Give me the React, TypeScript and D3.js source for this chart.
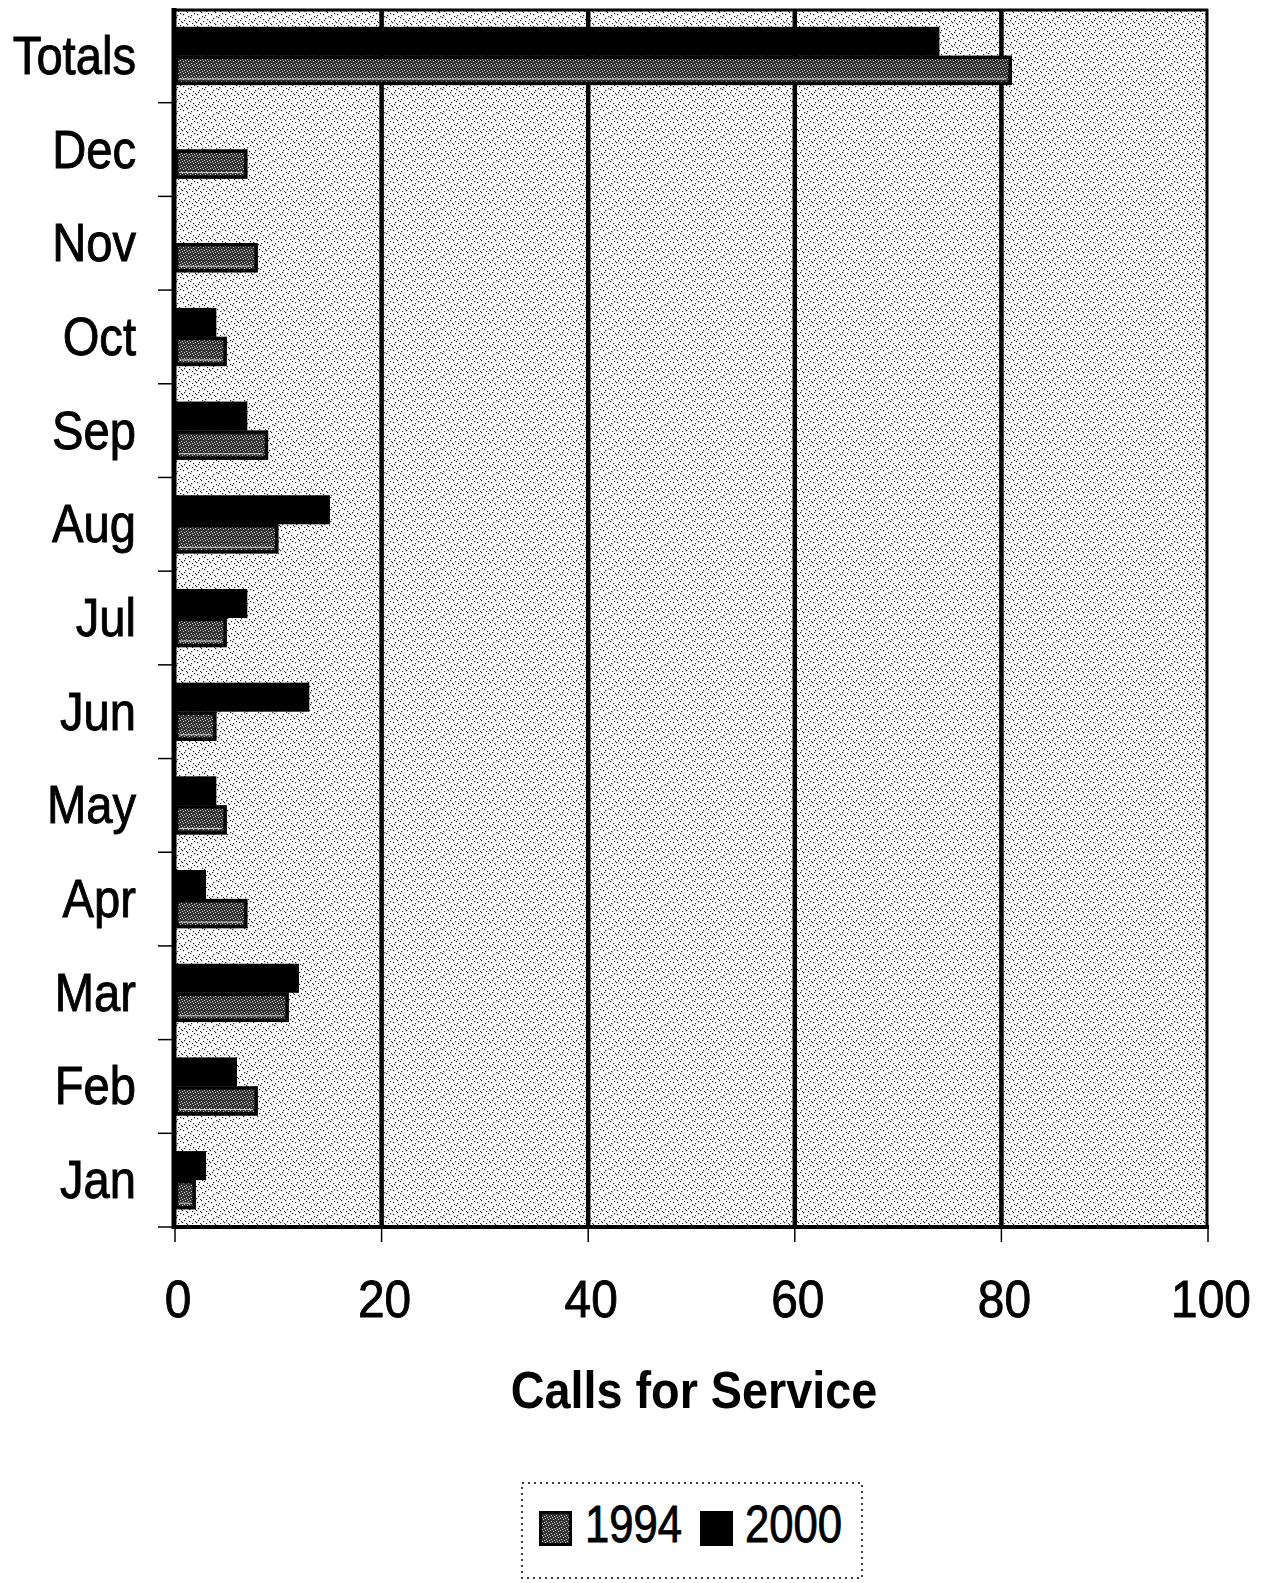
import React from "react";
import { scaleBand, scaleLinear } from "d3";

// categories from top to bottom, as in the picture
const categories = ["Totals", "Dec", "Nov", "Oct", "Sep", "Aug", "Jul", "Jun", "May", "Apr", "Mar", "Feb", "Jan"];
const values1994 = [81, 7, 8, 5, 9, 10, 5, 4, 5, 7, 11, 8, 2];
const values2000 = [74, 0, 0, 4, 7, 15, 7, 13, 4, 3, 12, 6, 3];
const xTicks = [0, 20, 40, 60, 80, 100];
const seriesNames = ["1994", "2000"];

const W = 1267;
const H = 1583;
const left = 175;
const right = 1208;
const top = 9;
const bottom = 1227;
const FONT = "'Liberation Sans', Arial, sans-serif";

// fixed speckle positions for the background tile (decoration only)
const bgDots = [
    [1, 2], [5, 0], [9, 3], [3, 6], [11, 7], [7, 9], [0, 10], [4, 11], [10, 11], [8, 5], [2, 8], [6, 4], [12, 1], [13, 9],
];
const darkDots = [[0, 0], [3, 1], [1, 3], [4, 4], [2, 5]];

function App() {
    const x = scaleLinear().domain([0, 100]).range([left, right]);
    const y = scaleBand<string>().domain(categories).range([top, bottom]).paddingInner(0.38).paddingOuter(0.19);
    const inner = scaleBand<string>().domain(["2000", "1994"]).range([0, y.bandwidth()]);
    const step = y.step();

    return (
        <svg width={W} height={H} style={{ position: "absolute", left: 0, top: 0, display: "block", background: "#fff" }}>
            <defs>
                <pattern id="bg" width={14} height={12} patternUnits="userSpaceOnUse">
                    <rect width={14} height={12} fill="#fff" />
                    {bgDots.map(([dx, dy], i) => (
                        <rect key={i} x={dx} y={dy} width={1.2} height={1.2} fill="#222" />
                    ))}
                </pattern>
                <pattern id="dark" width={5} height={6} patternUnits="userSpaceOnUse">
                    <rect width={5} height={6} fill="#333" />
                    {darkDots.map(([dx, dy], i) => (
                        <rect key={i} x={dx} y={dy} width={1} height={1} fill="#d0d0d0" />
                    ))}
                </pattern>
            </defs>

            {/* plot background */}
            <rect x={left} y={top} width={right - left} height={bottom - top} fill="url(#bg)" />

            {/* vertical gridlines */}
            {xTicks.slice(1, -1).map((t) => (
                <line key={t} x1={x(t)} x2={x(t)} y1={top} y2={bottom} stroke="#000" strokeWidth={4.5} />
            ))}

            {/* bars */}
            {categories.map((c, i) => {
                const by = y(c) as number;
                const v94 = values1994[i];
                const v00 = values2000[i];
                return (
                    <g key={c}>
                        {v00 > 0 && (
                            <rect x={x(0)} y={by + (inner("2000") as number)} width={x(v00) - x(0)} height={inner.bandwidth()} fill="#000" />
                        )}
                        {v94 > 0 && (
                            <g>
                                <rect
                                    x={x(0) + 1.5}
                                    y={by + (inner("1994") as number) + 1.5}
                                    width={x(v94) - x(0) - 3}
                                    height={inner.bandwidth() - 3}
                                    fill="url(#dark)"
                                    stroke="#000"
                                    strokeWidth={3.5}
                                />
                                <line
                                    x1={x(0) + 4}
                                    x2={x(v94) - 5}
                                    y1={by + (inner("1994") as number) + inner.bandwidth() - 6}
                                    y2={by + (inner("1994") as number) + inner.bandwidth() - 6}
                                    stroke="#cfcfcf"
                                    strokeWidth={1}
                                />
                            </g>
                        )}
                    </g>
                );
            })}

            {/* frame */}
            <line x1={left} x2={right} y1={top + 1} y2={top + 1} stroke="#000" strokeWidth={3} />
            <line x1={right - 1} x2={right - 1} y1={top} y2={bottom} stroke="#000" strokeWidth={3} />
            <line x1={left - 1} x2={left - 1} y1={top - 1} y2={bottom + 2} stroke="#000" strokeWidth={5} />
            <line x1={left - 3} x2={right + 1} y1={bottom} y2={bottom} stroke="#000" strokeWidth={4} />

            {/* left ticks between categories */}
            {categories.map((c, i) => (
                <line key={c} x1={158} x2={left - 3} y1={top + step * (i + 1)} y2={top + step * (i + 1)} stroke="#000" strokeWidth={1.5} />
            ))}

            {/* category labels */}
            {categories.map((c) => (
                <text
                    key={c}
                    transform={`translate(136, ${(y(c) as number) + y.bandwidth() / 2 + 18}) scale(0.89, 1)`}
                    textAnchor="end"
                    fontFamily={FONT}
                    fontSize={53}
                    fill="#000"
                    stroke="#000"
                    strokeWidth={0.9}
                >
                    {c}
                </text>
            ))}

            {/* x axis ticks and labels */}
            {xTicks.map((t) => (
                <g key={t}>
                    <line x1={x(t)} x2={x(t)} y1={bottom + 2} y2={bottom + 15} stroke="#000" strokeWidth={1.5} />
                    <text
                        transform={`translate(${x(t) + 3}, 1317) scale(0.92, 1)`}
                        textAnchor="middle"
                        fontFamily={FONT}
                        fontSize={52}
                        fill="#000"
                        stroke="#000"
                        strokeWidth={0.9}
                    >
                        {t}
                    </text>
                </g>
            ))}

            {/* axis title */}
            <text
                transform={`translate(694, 1408) scale(0.9, 1)`}
                textAnchor="middle"
                fontFamily={FONT}
                fontWeight="bold"
                fontSize={52}
                fill="#000"
            >
                Calls for Service
            </text>

            {/* legend */}
            <rect x={522} y={1483} width={340} height={95} fill="#fff" stroke="#000" strokeWidth={1.5} strokeDasharray="2 4" />
            <rect x={540.5} y={1512.5} width={30} height={32} fill="url(#dark)" stroke="#000" strokeWidth={3} />
            <text transform="translate(585, 1542) scale(0.84, 1)" fontFamily={FONT} fontSize={52} fill="#000" stroke="#000" strokeWidth={0.9}>
                {seriesNames[0]}
            </text>
            <rect x={700} y={1511} width={33} height={35} fill="#000" />
            <text transform="translate(745, 1542) scale(0.84, 1)" fontFamily={FONT} fontSize={52} fill="#000" stroke="#000" strokeWidth={0.9}>
                {seriesNames[1]}
            </text>
        </svg>
    );
}

export default App;
